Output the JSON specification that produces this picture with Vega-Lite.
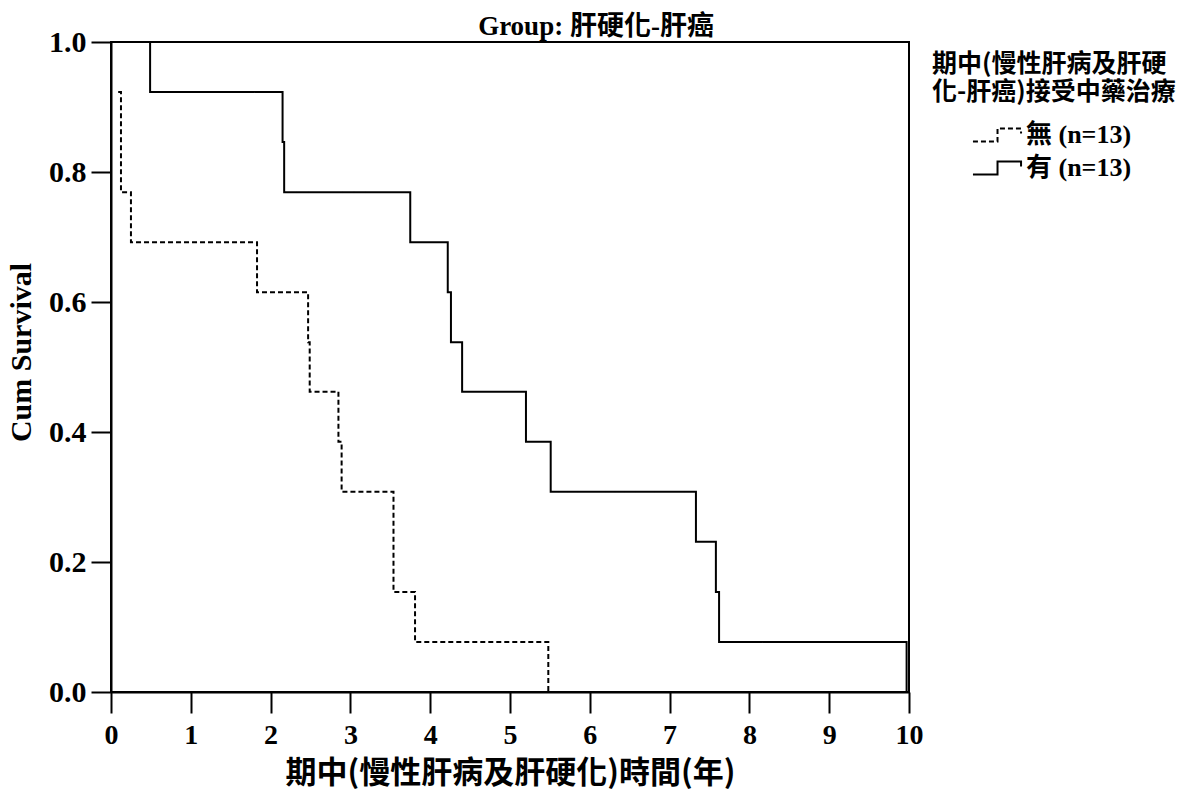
{
  "$schema": "https://vega.github.io/schema/vega-lite/v6.json",
  "width": 798,
  "height": 650,
  "autosize": {"type": "none"},
  "padding": {"left": 111, "top": 42, "right": 282, "bottom": 107},
  "background": "white",
  "title": {
    "text": "Group: 肝硬化-肝癌",
    "anchor": "middle",
    "frame": "group",
    "dx": 86,
    "dy": 18,
    "offset": 4,
    "font": "Liberation Serif, Noto Sans CJK TC",
    "fontSize": 27,
    "fontWeight": "bold",
    "color": "black"
  },
  "config": {
    "view": {"stroke": "black", "strokeWidth": 2},
    "axis": {
      "grid": false,
      "domainColor": "black",
      "domainWidth": 2,
      "tickColor": "black",
      "tickWidth": 2,
      "labelColor": "black",
      "titleColor": "black",
      "labelFont": "Liberation Serif",
      "labelFontWeight": "bold",
      "titleFont": "Liberation Serif, Noto Sans CJK TC"
    }
  },
  "data": {
    "values": [
      {"group": "無 (n=13)", "time": 0.09, "survival": 0.923},
      {"group": "無 (n=13)", "time": 0.125, "survival": 0.769},
      {"group": "無 (n=13)", "time": 0.25, "survival": 0.692},
      {"group": "無 (n=13)", "time": 1.83, "survival": 0.615},
      {"group": "無 (n=13)", "time": 2.47, "survival": 0.538},
      {"group": "無 (n=13)", "time": 2.49, "survival": 0.462},
      {"group": "無 (n=13)", "time": 2.85, "survival": 0.385},
      {"group": "無 (n=13)", "time": 2.89, "survival": 0.308},
      {"group": "無 (n=13)", "time": 3.54, "survival": 0.154},
      {"group": "無 (n=13)", "time": 3.81, "survival": 0.077},
      {"group": "無 (n=13)", "time": 5.48, "survival": 0.0},
      {"group": "有 (n=13)", "time": 0.0, "survival": 1.0},
      {"group": "有 (n=13)", "time": 0.49, "survival": 0.923},
      {"group": "有 (n=13)", "time": 2.15, "survival": 0.846},
      {"group": "有 (n=13)", "time": 2.17, "survival": 0.769},
      {"group": "有 (n=13)", "time": 3.75, "survival": 0.692},
      {"group": "有 (n=13)", "time": 4.22, "survival": 0.615},
      {"group": "有 (n=13)", "time": 4.26, "survival": 0.538},
      {"group": "有 (n=13)", "time": 4.40, "survival": 0.462},
      {"group": "有 (n=13)", "time": 5.20, "survival": 0.385},
      {"group": "有 (n=13)", "time": 5.51, "survival": 0.308},
      {"group": "有 (n=13)", "time": 7.33, "survival": 0.231},
      {"group": "有 (n=13)", "time": 7.58, "survival": 0.154},
      {"group": "有 (n=13)", "time": 7.62, "survival": 0.077},
      {"group": "有 (n=13)", "time": 9.97, "survival": 0.0}
    ]
  },
  "mark": {"type": "line", "interpolate": "step-after", "color": "black", "strokeWidth": 2, "clip": false},
  "encoding": {
    "x": {
      "field": "time",
      "type": "quantitative",
      "scale": {"domain": [0, 10], "nice": false, "zero": true},
      "axis": {
        "title": "期中(慢性肝病及肝硬化)時間(年)",
        "values": [0, 0.5, 1, 1.5, 2, 2.5, 3, 3.5, 4, 4.5, 5, 5.5, 6, 6.5, 7, 7.5, 8, 8.5, 9, 9.5, 10],
        "format": "d",
        "labelExpr": "datum.value % 1 ? '' : datum.label",
        "tickSize": {"condition": {"test": "datum.value % 1 !== 0", "value": 11}, "value": 21},
        "labelPadding": 8,
        "labelFontSize": 28,
        "labelFlush": false,
        "labelOverlap": false,
        "titleFont": "Noto Sans CJK TC",
        "titleFontSize": 31,
        "titleFontWeight": "bold",
        "titlePadding": 9
      }
    },
    "y": {
      "field": "survival",
      "type": "quantitative",
      "scale": {"domain": [0, 1], "nice": false},
      "axis": {
        "title": "Cum Survival",
        "values": [0, 0.2, 0.4, 0.6, 0.8, 1.0],
        "format": ".1f",
        "tickSize": 20,
        "labelPadding": 5,
        "labelFontSize": 30,
        "titleFontSize": 30,
        "titleFontWeight": "bold",
        "titleFont": "Liberation Serif",
        "titlePadding": 12,
        "titleY": 310
      }
    },
    "strokeDash": {
      "field": "group",
      "type": "nominal",
      "scale": {"domain": ["無 (n=13)", "有 (n=13)"], "range": [[5, 3], [1, 0]]},
      "legend": {
        "title": ["期中(慢性肝病及肝硬", "化-肝癌)接受中藥治療"],
        "orient": "none",
        "legendX": 821,
        "legendY": 10,
        "titleFont": "Noto Sans CJK TC",
        "titleFontSize": 25,
        "titleFontWeight": "bold",
        "titleLineHeight": 28,
        "titleColor": "black",
        "titleLimit": 400,
        "titlePadding": 16,
        "symbolType": "M-1.85,0.5H0.04V-0.5H1.85V-0.12",
        "symbolSize": 676,
        "symbolStrokeWidth": 2,
        "symbolStrokeColor": "black",
        "symbolOffset": 51,
        "labelFont": "Liberation Serif, Noto Sans CJK TC",
        "labelFontSize": 26,
        "labelFontWeight": "bold",
        "labelColor": "black",
        "labelOffset": 15,
        "labelLimit": 300,
        "rowPadding": 6
      }
    }
  }
}
